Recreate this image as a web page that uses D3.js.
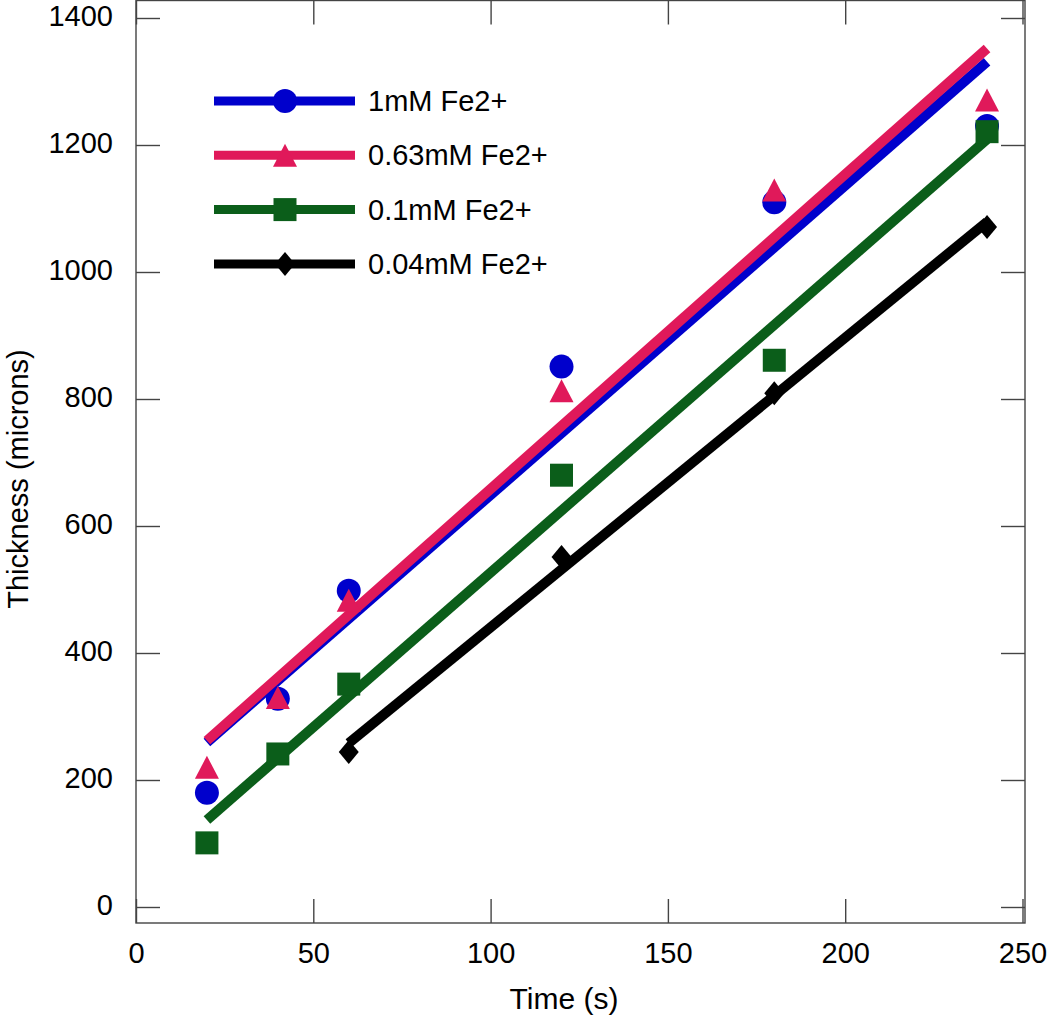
<!DOCTYPE html>
<html>
<head>
<meta charset="utf-8">
<script src="https://cdn.jsdelivr.net/npm/d3@7"></script>
<style>
  body { margin: 0; background: #fff; }
  svg { display: block; font-family: "Liberation Sans", Arial, sans-serif; }
  .tick line { stroke: #444; stroke-width: 1.4; }
  .tick text { fill: #000; font-size: 29px; }
</style>
</head>
<body>
<svg id="chart" width="1050" height="1019"></svg>
<script>
// data
var times = [20, 40, 60, 120, 180, 240]
var blackTimes = [60, 120, 180, 240]
var seriesNames = ["1mM Fe2+", "0.63mM Fe2+", "0.1mM Fe2+", "0.04mM Fe2+"]
var blueVals = [180, 328, 498, 851, 1110, 1230]
var pinkVals = [220, 330, 483, 813, 1129, 1271]
var greenVals = [101, 241, 351, 680, 861, 1221]
var blackVals = [244, 551, 809, 1071]
// fitted line ends (value at first and last time)
var blueFit = [259, 1331]
var pinkFit = [262, 1352]
var greenFit = [137, 1209]
var blackFit = [258, 1079]
var xTicks = [0, 50, 100, 150, 200, 250]
var yTicks = [0, 200, 400, 600, 800, 1000, 1200, 1400]

var colors = ["#0000cc", "#e0195a", "#0b5e1a", "#000000"]
var shapes = ["circle", "triangle", "square", "diamond"]

var svg = d3.select("#chart")
var frame = { left: 136, right: 1025, top: 0.5, bottom: 923 }

var x = d3.scaleLinear().domain([0, 250]).range([136, 1022.5])
var y = d3.scaleLinear().domain([0, 1400]).range([907, 18])
var fmt = d3.format("d")

function markerPath(shape) {
  switch (shape) {
    case "circle":
      return "M12,0A12,12 0 1,1 -12,0A12,12 0 1,1 12,0Z"
    case "triangle":
      return "M0,-11.5L12,11.5L-12,11.5Z"
    case "square":
      return "M-11.5,-11.5H11.5V11.5H-11.5Z"
    case "diamond":
      return "M0,-12L10,0L0,12L-10,0Z"
  }
}

var series = [
  { name: seriesNames[0], t: times, v: blueVals, fit: blueFit },
  { name: seriesNames[1], t: times, v: pinkVals, fit: pinkFit },
  { name: seriesNames[2], t: times, v: greenVals, fit: greenFit },
  { name: seriesNames[3], t: blackTimes, v: blackVals, fit: blackFit }
]

// frame
svg.append("rect")
  .attr("x", frame.left).attr("y", frame.top)
  .attr("width", frame.right - frame.left).attr("height", frame.bottom - frame.top)
  .attr("fill", "none").attr("stroke", "#444").attr("stroke-width", 1.4)

// axes (inward ticks on all sides)
var bottom = svg.append("g").attr("transform", "translate(0," + frame.bottom + ")")
  .call(d3.axisBottom(x).tickValues(xTicks).tickSizeInner(-24).tickSizeOuter(0).tickPadding(40).tickFormat(fmt))
var top = svg.append("g").attr("transform", "translate(0," + frame.top + ")")
  .call(d3.axisTop(x).tickValues(xTicks).tickSizeInner(-24).tickSizeOuter(0).tickFormat(""))
var left = svg.append("g").attr("transform", "translate(" + frame.left + ",0)")
  .call(d3.axisLeft(y).tickValues(yTicks).tickSizeInner(-24).tickSizeOuter(0).tickPadding(23).tickFormat(fmt))
var right = svg.append("g").attr("transform", "translate(" + frame.right + ",0)")
  .call(d3.axisRight(y).tickValues(yTicks).tickSizeInner(-24).tickSizeOuter(0).tickFormat(""))

svg.selectAll(".domain").remove()
svg.selectAll(".tick text").attr("font-family", null).attr("font-size", null)
bottom.selectAll(".tick text").attr("dy", "0")
left.selectAll(".tick text").attr("dy", "0.25em")

// axis titles
svg.append("text")
  .attr("x", 564).attr("y", 1009)
  .attr("text-anchor", "middle").attr("font-size", 30)
  .text("Time (s)")
svg.append("text")
  .attr("transform", "translate(28,479) rotate(-90)")
  .attr("text-anchor", "middle").attr("font-size", 29)
  .text("Thickness (microns)")

// series: fit line then markers
var plot = svg.append("g")
series.forEach(function (s, i) {
  var t0 = s.t[0], t1 = s.t[s.t.length - 1]
  plot.append("line")
    .attr("x1", x(t0)).attr("y1", y(s.fit[0]))
    .attr("x2", x(t1)).attr("y2", y(s.fit[1]))
    .attr("stroke", colors[i]).attr("stroke-width", 10)
  plot.selectAll(".m" + i)
    .data(s.t.map(function (t, j) { return { t: t, v: s.v[j] } }))
    .enter().append("path")
    .attr("class", "m" + i)
    .attr("transform", function (d) { return "translate(" + x(d.t) + "," + y(d.v) + ")" })
    .attr("d", markerPath(shapes[i]))
    .attr("fill", colors[i])
})

// legend
var legend = svg.append("g").attr("transform", "translate(214,101)")
var rows = legend.selectAll("g").data(series).enter().append("g")
  .attr("transform", function (d, i) { return "translate(0," + (i * 54.3) + ")" })
rows.append("line")
  .attr("x1", 0).attr("x2", 141).attr("y1", 0).attr("y2", 0)
  .attr("stroke", function (d, i) { return colors[i] }).attr("stroke-width", 9)
rows.append("path")
  .attr("transform", "translate(71,0)")
  .attr("d", function (d, i) { return markerPath(shapes[i]) })
  .attr("fill", function (d, i) { return colors[i] })
rows.append("text")
  .attr("x", 154).attr("y", 10)
  .attr("font-size", 29)
  .text(function (d) { return d.name })
</script>
</body>
</html>
